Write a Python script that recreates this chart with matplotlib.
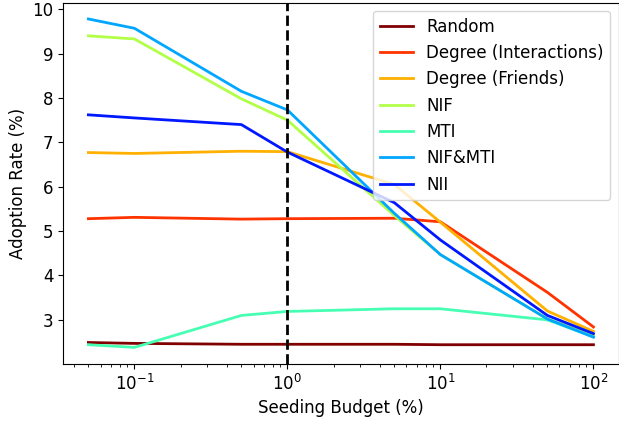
import matplotlib
matplotlib.use("Agg")
import matplotlib.pyplot as plt

plt.rcParams["font.size"] = 12

budgets = [0.05, 0.1, 0.5, 1, 5, 10, 50, 100]

labels = ["Random", "Degree (Interactions)", "Degree (Friends)", "NIF", "MTI", "NIF&MTI", "NII"]
random_vals = [2.49, 2.47, 2.45, 2.45, 2.45, 2.44, 2.44, 2.44]
degree_inter = [5.28, 5.31, 5.27, 5.28, 5.29, 5.21, 3.62, 2.84]
degree_friends = [6.77, 6.75, 6.80, 6.79, 6.05, 5.20, 3.20, 2.74]
nif = [9.40, 9.33, 7.98, 7.50, 5.35, 4.47, 3.02, 2.65]
mti = [2.44, 2.38, 3.10, 3.19, 3.25, 3.25, 3.00, 2.62]
nif_mti = [9.78, 9.57, 8.15, 7.73, 5.40, 4.47, 3.02, 2.61]
nii = [7.62, 7.55, 7.40, 6.78, 5.64, 4.80, 3.10, 2.69]

series = [random_vals, degree_inter, degree_friends, nif, mti, nif_mti, nii]
colors = ["#800000", "#ff3300", "#ffb000", "#b2ff47", "#47ffb2", "#00a6ff", "#0018ff"]

fig, ax = plt.subplots(figsize=(6.19, 4.26), dpi=100)
fig.subplots_adjust(left=0.102, right=0.9995, top=0.994, bottom=0.146)

for lab, vals, c in zip(labels, series, colors):
    ax.plot(budgets, vals, color=c, lw=2, label=lab)

ax.axvline(1, color="black", ls="--", lw=2)
ax.set_xscale("log")
ax.set_xlabel("Seeding Budget (%)")
ax.set_ylabel("Adoption Rate (%)")
ax.legend(loc="upper right")

fig.savefig("out.png")
